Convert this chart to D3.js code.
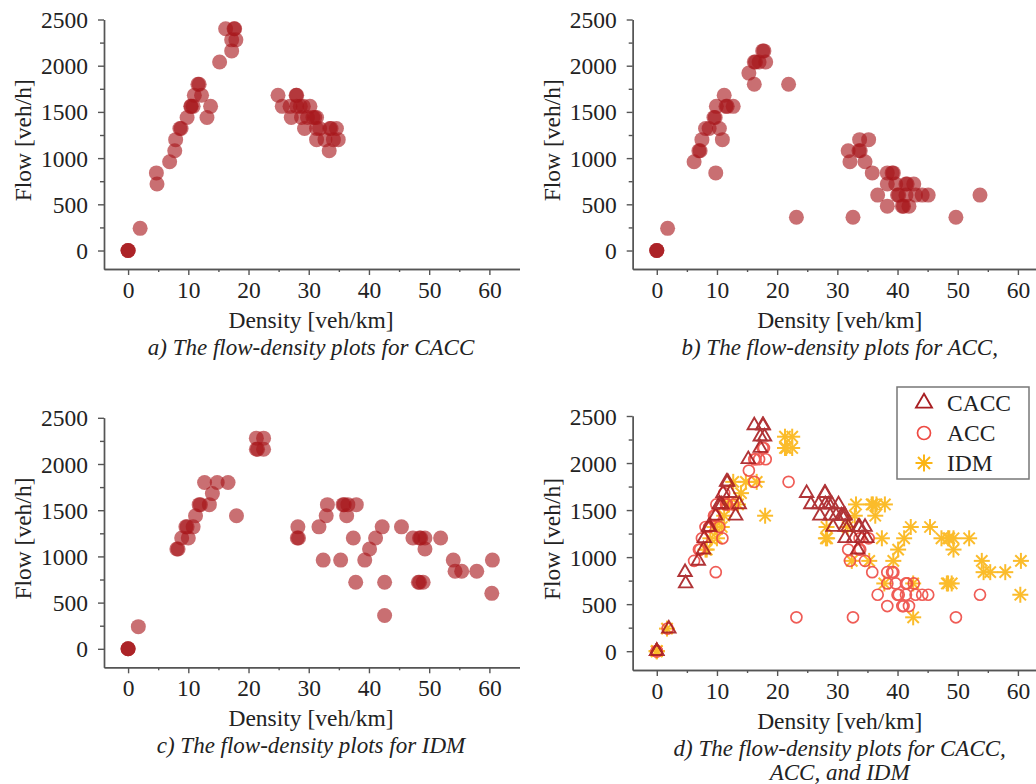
<!DOCTYPE html>
<html>
<head>
<meta charset="utf-8">
<script src="https://cdn.jsdelivr.net/npm/d3@7"></script>
<style>
  body { margin: 0; background: #fff; }
  svg text { font-family: "Liberation Serif", "Times New Roman", serif; fill: #222; }
</style>
</head>
<body>
<div id="chart"></div>
<script>
// tick labels
const xTicks = [0, 10, 20, 30, 40, 50, 60];
const xMinorTicks = [5, 15, 25, 35, 45, 55];
const yTicks = [0, 500, 1000, 1500, 2000, 2500];
const yMinorTicks = [250, 750, 1250, 1750, 2250];
const seriesNames = ["CACC", "ACC", "IDM"];

// CACC: density [veh/km], flow [veh/h]
const caccDensity = [0, 0, 0, 2, 4.7, 4.8, 6.9, 7.75, 7.9, 8.6, 8.8, 9.8, 10.4, 10.5, 10.8, 11.0, 12.2,
  11.6, 11.8, 13.1, 13.7, 15.2, 16.2, 17.7, 17.6, 17.2, 17.9, 17.2,
  24.9, 25.6, 26.9, 28.0, 28.6, 29.1, 30.2, 27.9, 28.0, 27.1, 28.8, 29.8, 30.7, 31.3, 31.0,
  29.3, 31.3, 31.8, 33.5, 34.6, 33.7, 31.3, 32.7, 34.1, 34.9, 33.4];
const caccFlow = [0, 0, 0, 240, 840, 720, 960, 1080, 1200, 1320, 1320, 1440, 1560, 1560, 1560, 1680, 1680,
  1800, 1800, 1440, 1560, 2040, 2400, 2400, 2400, 2280, 2280, 2160,
  1680, 1560, 1560, 1560, 1560, 1560, 1560, 1680, 1680, 1440, 1440, 1440, 1440, 1440, 1440,
  1320, 1320, 1320, 1320, 1320, 1320, 1200, 1200, 1200, 1200, 1080];

// ACC
const accDensity = [0, 0, 0, 1.8, 6.2, 7.0, 7.2, 7.5, 8.1, 8.7, 9.5, 9.7, 9.9, 9.8, 10.4, 10.9, 11.2,
  11.5, 11.7, 12.7, 15.3, 16.2, 16.4, 16.2, 17.0, 17.6, 17.8, 18.1, 21.9, 23.2,
  31.8, 32.1, 33.6, 33.8, 33.7, 35.2, 34.6, 35.8, 36.7, 32.6, 38.3, 38.3, 39.1, 39.3, 38.3,
  39.7, 41.4, 41.6, 42.7, 40.0, 40.2, 41.4, 43.0, 44.1, 45.1, 40.8, 41.0, 41.9, 49.7, 53.7];
const accFlow = [0, 0, 0, 240, 960, 1080, 1080, 1200, 1320, 1320, 1440, 1440, 1560, 840, 1320, 1200, 1680,
  1560, 1560, 1560, 1920, 2040, 2040, 1800, 2040, 2160, 2160, 2040, 1800, 360,
  1080, 960, 1080, 1080, 1200, 1200, 960, 840, 600, 360, 480, 840, 840, 840, 720,
  720, 720, 720, 720, 600, 600, 600, 600, 600, 600, 480, 480, 480, 360, 600];

// IDM
const idmDensity = [0, 0, 0, 1.7, 8.1, 8.3, 8.9, 10.0, 9.6, 9.8, 10.8, 11.2, 11.8, 12.0, 13.5, 12.7,
  14.0, 14.8, 16.6, 18.0, 21.3, 22.5, 21.3, 21.5, 22.5,
  28.2, 28.1, 28.3, 31.7, 32.4, 33.1, 32.9, 35.3, 35.7, 35.9, 36.5, 37.9, 36.3, 37.4, 37.8,
  39.3, 40.1, 41.1, 42.2, 42.6, 42.6, 45.4, 47.3, 48.4, 48.6, 49.3, 49.3, 48.2, 48.4, 49.0,
  51.9, 54.0, 54.3, 55.4, 57.9, 60.5, 60.4];
const idmFlow = [0, 0, 0, 240, 1080, 1080, 1200, 1200, 1320, 1320, 1320, 1440, 1560, 1560, 1560, 1800,
  1680, 1800, 1800, 1440, 2280, 2280, 2160, 2160, 2160,
  1320, 1200, 1200, 1320, 960, 1560, 1440, 960, 1560, 1560, 1560, 1560, 1440, 1200, 720,
  960, 1080, 1200, 1320, 720, 360, 1320, 1200, 1200, 1200, 1200, 1080, 720, 720, 720,
  1200, 960, 840, 840, 840, 960, 600];

const toPoints = (xs, ys) => xs.map((d, i) => ({density: d, flow: ys[i]}));
const cacc = toPoints(caccDensity, caccFlow);
const acc = toPoints(accDensity, accFlow);
const idm = toPoints(idmDensity, idmFlow);

const W = 1036, H = 784;
const svg = d3.select("#chart").append("svg")
  .attr("width", W).attr("height", H)
  .attr("viewBox", `0 0 ${W} ${H}`);

const panels = [
  {x0: 104, x1: 519.5, y0: 269, y1: 19.5, caption: ["a) The flow-density plots for CACC"]},
  {x0: 632.7, x1: 1048, y0: 269, y1: 19.5, caption: ["b) The flow-density plots for ACC,"]},
  {x0: 104, x1: 519.5, y0: 667.3, y1: 417.8, caption: ["c) The flow-density plots for IDM"]},
  {x0: 632.7, x1: 1048, y0: 670, y1: 416, caption: ["d) The flow-density plots for CACC,", "ACC, and IDM"]}
];

const axisColor = "#555";
const labelSize = "23.5px";

function drawAxes(p) {
  const x = d3.scaleLinear().domain([-4, 65]).range([p.x0, p.x1]);
  const y = d3.scaleLinear().domain([-200, 2500]).range([p.y0, p.y1]);
  const g = svg.append("g");

  // minor ticks
  g.append("g").attr("transform", `translate(0,${p.y0})`)
    .call(d3.axisBottom(x).tickValues(xMinorTicks).tickSize(3).tickSizeOuter(0).tickFormat(""));
  g.append("g").attr("transform", `translate(${p.x0},0)`)
    .call(d3.axisLeft(y).tickValues(yMinorTicks).tickSize(4).tickSizeOuter(0).tickFormat(""));

  // major ticks
  g.append("g").attr("transform", `translate(0,${p.y0})`)
    .call(d3.axisBottom(x).tickValues(xTicks).tickSize(6).tickSizeOuter(0).tickPadding(6)
      .tickFormat(d3.format("d")))
    .call(a => a.selectAll("text").style("font-size", labelSize));
  g.append("g").attr("transform", `translate(${p.x0},0)`)
    .call(d3.axisLeft(y).tickValues(yTicks).tickSize(6).tickSizeOuter(0).tickPadding(10)
      .tickFormat(d3.format("d")))
    .call(a => a.selectAll("text").style("font-size", labelSize).attr("dy", "0.34em"));

  g.selectAll(".domain, .tick line").attr("stroke", axisColor).attr("stroke-width", 1.4);
  g.selectAll(".tick text").attr("fill", "#222");

  const cx = (p.x0 + 414 / 2);
  svg.append("text")
    .attr("x", cx).attr("y", p.y0 + 59)
    .attr("text-anchor", "middle").style("font-size", labelSize)
    .text("Density [veh/km]");

  svg.append("text")
    .attr("transform", `translate(${p.x0 - 73},${(p.y0 + p.y1) / 2 - 4}) rotate(-90)`)
    .attr("text-anchor", "middle").style("font-size", labelSize)
    .text("Flow [veh/h]");

  p.caption.forEach((line, i) => {
    svg.append("text")
      .attr("x", cx).attr("y", p.y0 + 86 + i * 24)
      .attr("text-anchor", "middle").style("font-size", "23px").style("font-style", "italic")
      .text(line);
  });

  return {x, y};
}

const dotFill = "#a8171b";

function drawDots(p, data) {
  const {x, y} = drawAxes(p);
  svg.append("g").selectAll("circle")
    .data(data)
    .join("circle")
    .attr("cx", d => x(d.density))
    .attr("cy", d => y(d.flow))
    .attr("r", 7.5)
    .attr("fill", dotFill)
    .attr("fill-opacity", 0.62);
}

drawDots(panels[0], cacc);
drawDots(panels[1], acc);
drawDots(panels[2], idm);

// panel d: combined markers
const colors = {CACC: "#a81e22", ACC: "#ee4a43", IDM: "#fbb515"};
const triangle = d3.symbol().type(d3.symbolTriangle);

function asterisk(g, r, color) {
  [0, 45, 90, 135].forEach(a => {
    const rad = a * Math.PI / 180;
    g.append("line")
      .attr("x1", -r * Math.cos(rad)).attr("y1", -r * Math.sin(rad))
      .attr("x2", r * Math.cos(rad)).attr("y2", r * Math.sin(rad))
      .attr("stroke", color).attr("stroke-width", 2);
  });
}

function drawMarker(g, name, big) {
  if (name === "CACC") {
    g.append("path").attr("d", triangle.size(big ? 110 : 78)())
      .attr("fill", "none").attr("stroke", colors.CACC).attr("stroke-width", 1.9);
  } else if (name === "ACC") {
    g.append("circle").attr("r", big ? 6.5 : 5.5)
      .attr("fill", "none").attr("stroke", colors.ACC).attr("stroke-width", 1.7);
  } else {
    asterisk(g, big ? 8.5 : 8, colors.IDM);
  }
}

{
  const p = panels[3];
  const {x, y} = drawAxes(p);
  const layers = [["IDM", idm], ["ACC", acc], ["CACC", cacc]];
  layers.forEach(([name, data]) => {
    svg.append("g").attr("opacity", 0.9).selectAll("g")
      .data(data)
      .join("g")
      .attr("transform", d => `translate(${x(d.density)},${y(d.flow)})`)
      .each(function () { drawMarker(d3.select(this), name, false); });
  });

  // legend
  const lg = svg.append("g").attr("transform", "translate(897,387)");
  lg.append("rect").attr("width", 132).attr("height", 92)
    .attr("fill", "#fff").attr("stroke", "#777").attr("stroke-width", 1.5);
  seriesNames.forEach((name, i) => {
    const row = lg.append("g").attr("transform", `translate(27,${16 + i * 30})`);
    drawMarker(row, name, true);
    row.append("text").attr("x", 23).attr("dy", "0.35em")
      .style("font-size", labelSize).text(name);
  });
}
</script>
</body>
</html>
